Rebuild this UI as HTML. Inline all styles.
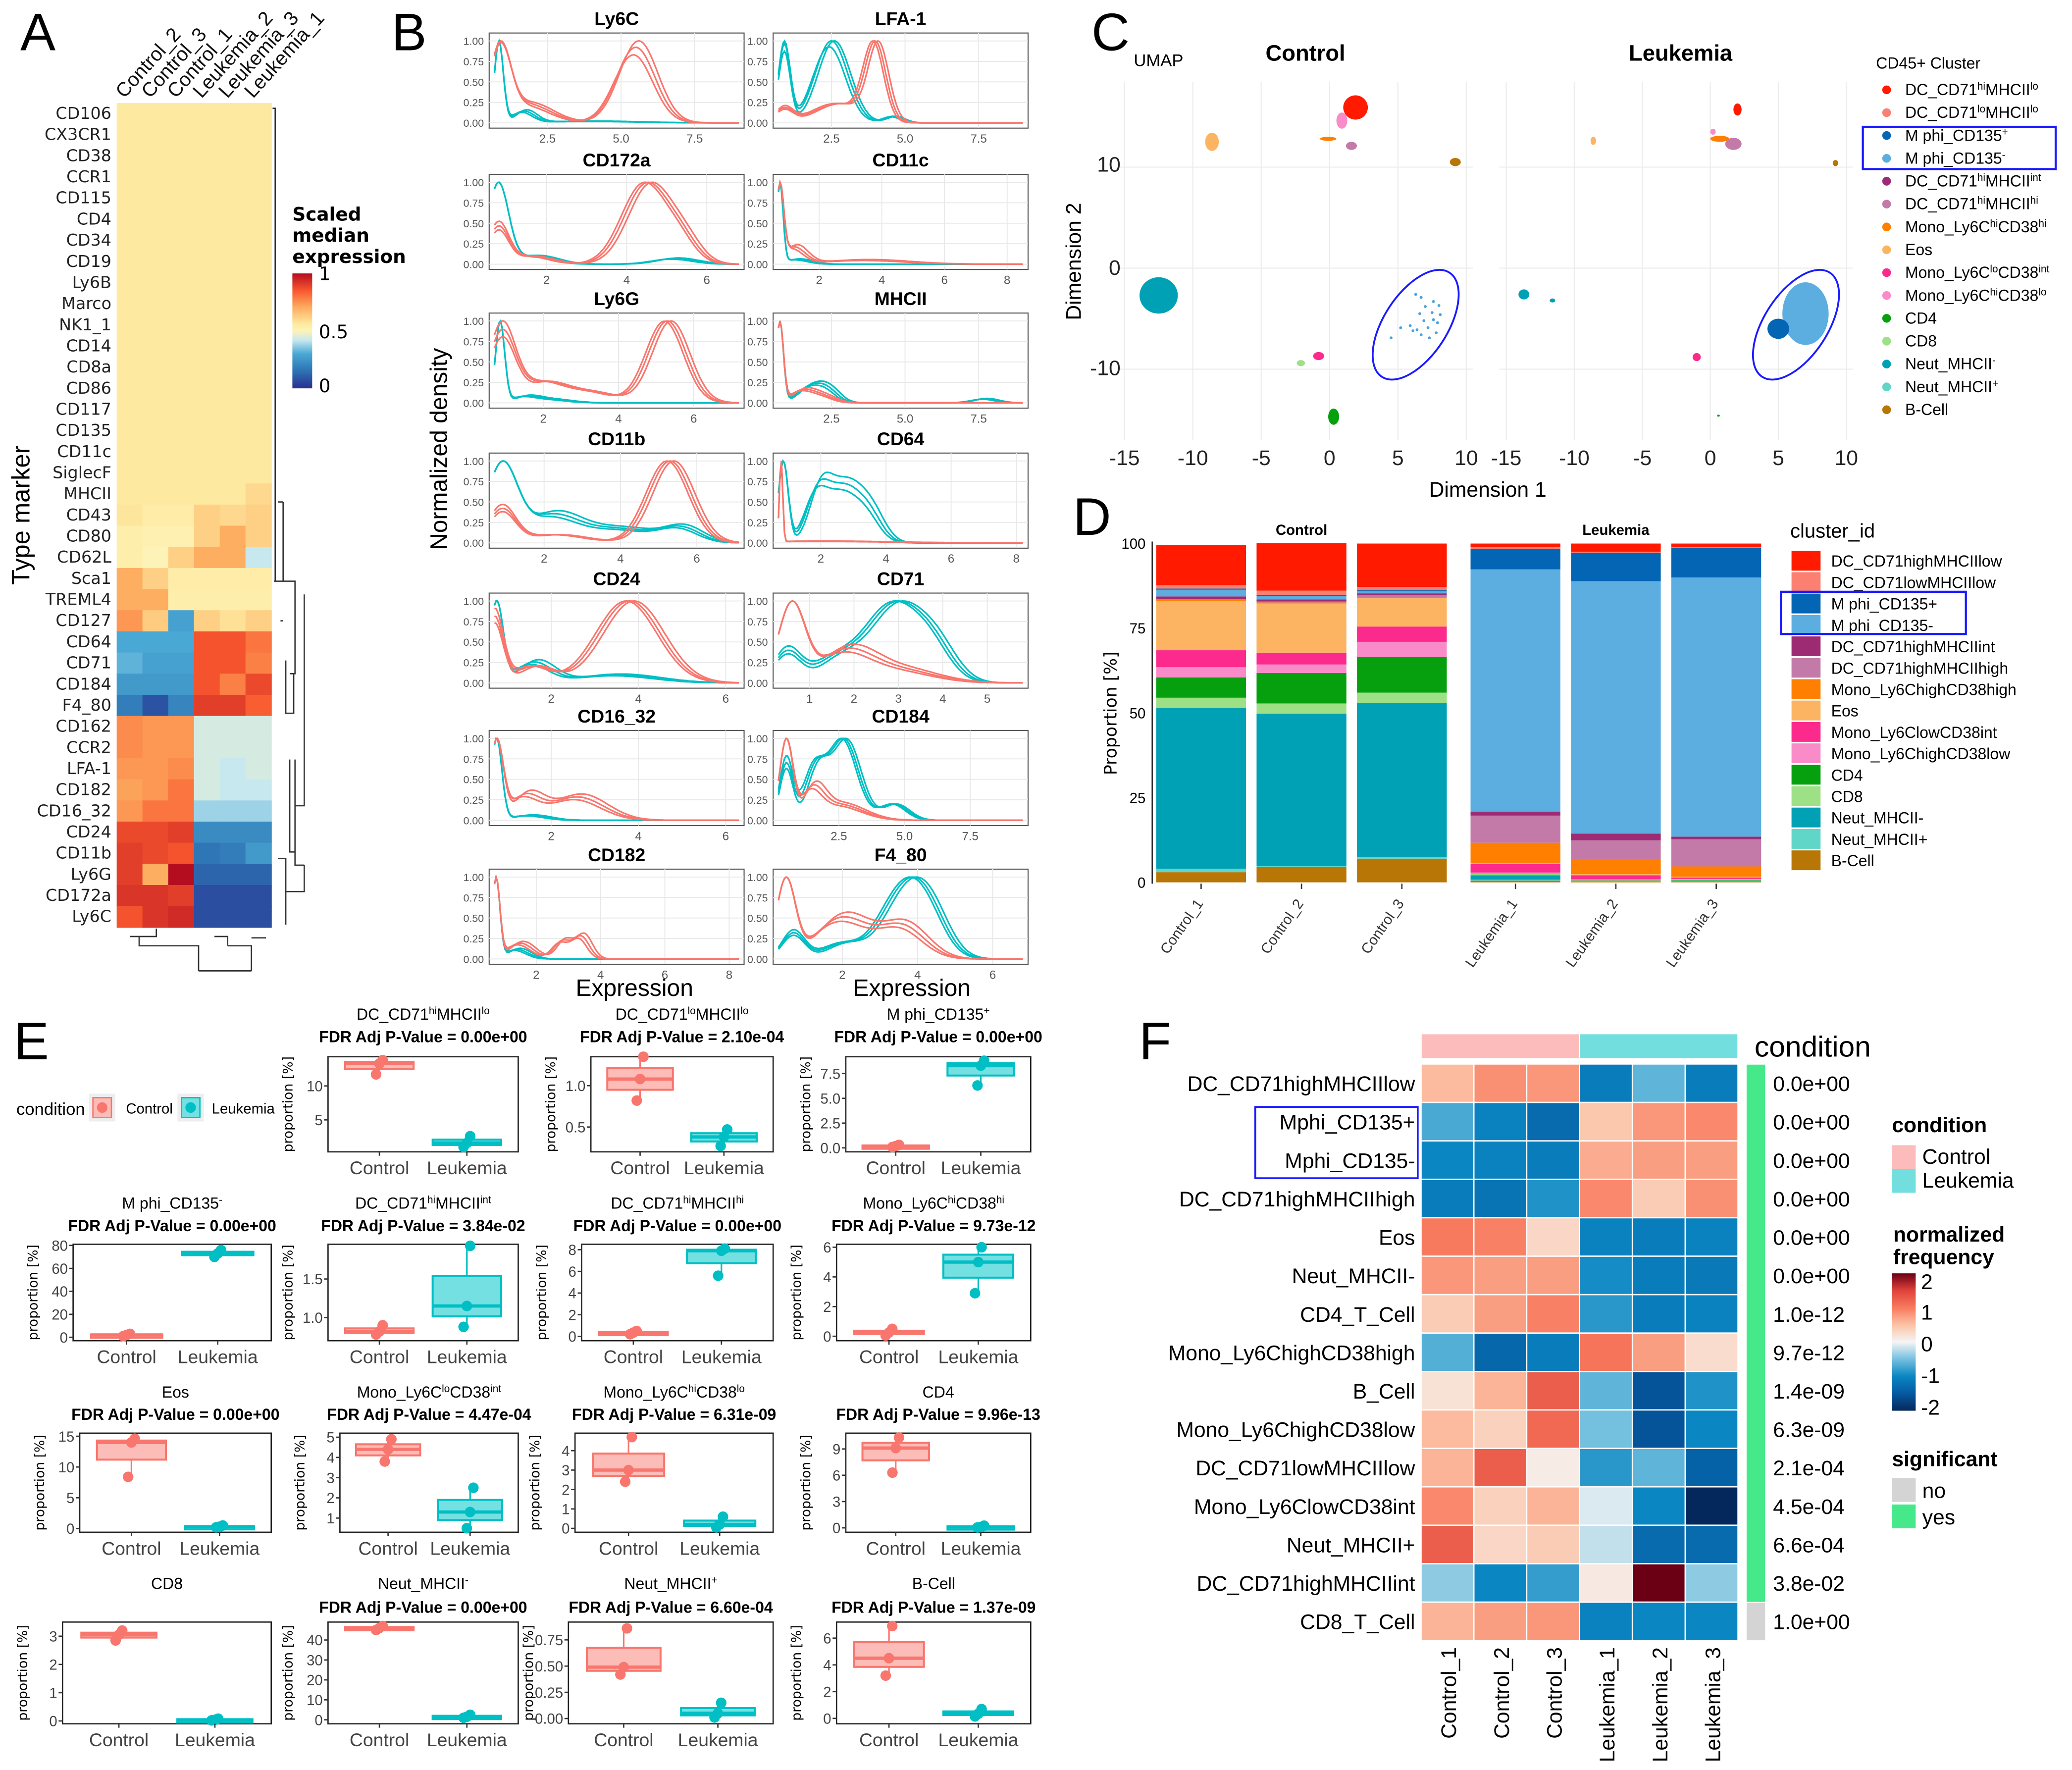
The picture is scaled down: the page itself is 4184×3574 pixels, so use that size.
<!DOCTYPE html>
<html><head><meta charset="utf-8">
<style>
html,body{margin:0;padding:0;background:#fff;}
svg{display:block;}
text{font-family:"Liberation Sans",sans-serif;}
.n{font-family:"Liberation Sans Narrow","Liberation Sans",sans-serif;font-stretch:condensed;}
.w{font-family:"DejaVu Sans","Liberation Sans",sans-serif;}
</style></head>
<body>
<svg id="fig" xmlns="http://www.w3.org/2000/svg" width="4184" height="3574" viewBox="0 0 1568 1340"></svg>
<script>
// ===== Panel A data =====
const aRows=["CD106","CX3CR1","CD38","CCR1","CD115","CD4","CD34","CD19","Ly6B","Marco","NK1_1","CD14","CD8a","CD86","CD117","CD135","CD11c","SiglecF","MHCII","CD43","CD80","CD62L","Sca1","TREML4","CD127","CD64","CD71","CD184","F4_80","CD162","CCR2","LFA-1","CD182","CD16_32","CD24","CD11b","Ly6G","CD172a","Ly6C"];
const aCols=["Control_2","Control_3","Control_1","Leukemia_2","Leukemia_3","Leukemia_1"];
const aVals=[
[.56,.56,.56,.56,.56,.56],[.56,.56,.56,.56,.56,.56],[.56,.56,.56,.56,.56,.56],[.56,.56,.56,.56,.56,.56],
[.56,.56,.56,.56,.56,.56],[.56,.56,.56,.56,.56,.56],[.56,.56,.56,.56,.56,.56],[.56,.56,.56,.56,.56,.56],
[.56,.56,.56,.56,.56,.56],[.56,.56,.56,.56,.56,.56],[.56,.56,.56,.56,.56,.56],[.56,.56,.56,.56,.56,.56],
[.56,.56,.56,.56,.56,.56],[.56,.56,.56,.56,.56,.56],[.56,.56,.56,.56,.56,.56],[.56,.56,.56,.56,.56,.56],
[.56,.56,.56,.56,.56,.56],[.56,.56,.56,.56,.56,.56],[.56,.56,.56,.56,.56,.6],
[.57,.54,.54,.62,.6,.62],[.53,.52,.52,.62,.7,.62],[.53,.5,.62,.7,.7,.42],
[.7,.62,.54,.54,.54,.54],[.7,.7,.53,.53,.53,.53],[.74,.63,.28,.62,.58,.62],
[.3,.3,.3,.86,.86,.8],[.32,.28,.28,.86,.86,.78],[.26,.26,.26,.86,.78,.88],[.18,.08,.2,.9,.9,.84],
[.76,.74,.74,.44,.44,.44],[.76,.74,.74,.44,.44,.44],[.74,.74,.76,.44,.42,.44],[.72,.74,.8,.44,.42,.42],
[.74,.8,.8,.38,.38,.38],[.88,.88,.9,.22,.22,.22],[.9,.88,.86,.16,.18,.26],[.9,.7,1.0,.12,.12,.12],[.92,.92,.9,.07,.07,.07],[.86,.92,.94,.07,.07,.07]];

// ===== Panel B data =====
const bMarkers=["Ly6C","LFA-1","CD172a","CD11c","Ly6G","MHCII","CD11b","CD64","CD24","CD71","CD16_32","CD184","CD182","F4_80"];
const bRange=[[0.7,9],[0.7,9],[0.7,6.8],[0.7,8.5],[0.7,7.2],[0.7,9],[0.7,7.1],[0.7,8.2],[0.7,6.3],[0.3,5.8],[0.7,6.3],[0.2,9.5],[0.7,8.3],[0.3,6.8]];
const bTicks=[[2.5,5,7.5],[2.5,5,7.5],[2,4,6],[2,4,6,8],[2,4,6],[2.5,5,7.5],[2,4,6],[2,4,6,8],[2,4,6],[1,2,3,4,5],[2,4,6],[2.5,5,7.5],[2,4,6,8],[2,4,6]];
const bCtrl=[
[[0.9,0.35,0.95],[1.8,0.8,0.25],[5.5,0.65,1]],
[[0.9,0.3,0.18],[2.7,0.8,0.25],[4,0.35,1]],
[[0.8,0.25,0.45],[1.6,0.5,0.1],[4.5,0.55,1],[5.4,0.4,0.25]],
[[0.75,0.12,0.9],[1.2,0.35,0.2],[3.5,1.3,0.05]],
[[0.9,0.35,0.85],[2,0.6,0.25],[3.3,0.6,0.12],[5.3,0.5,1]],
[[0.75,0.12,1],[1.5,0.4,0.15],[2.2,0.4,0.08]],
[[0.9,0.35,0.4],[2.3,0.8,0.1],[5.3,0.55,1]],
[[0.78,0.05,1],[2,2,0.02]],
[[0.7,0.2,0.8],[1.6,0.4,0.2],[3.8,0.7,1]],
[[0.6,0.3,0.9],[1.8,0.6,0.35],[3,0.8,0.15]],
[[0.75,0.15,1],[1.4,0.35,0.3],[2.6,0.6,0.3]],
[[0.5,0.25,0.6],[2.5,0.9,0.12],[1.5,0.4,0.2]],
[[0.75,0.12,1],[1.5,0.4,0.2],[2.8,0.25,0.22],[3.4,0.25,0.28]],
[[0.5,0.25,0.85],[2,0.7,0.45],[3.6,0.6,0.35]]];
const bLeuk=[
[[0.85,0.15,1],[1.7,0.35,0.14],[4,1.5,0.02]],
[[0.9,0.2,0.95],[2.5,0.55,1],[4.6,0.3,0.08]],
[[0.8,0.25,1],[1.7,0.5,0.1],[5.2,0.5,0.07]],
[[0.75,0.1,1],[1.3,0.4,0.06]],
[[0.85,0.12,1],[1.5,0.35,0.07],[2.2,0.5,0.04]],
[[0.75,0.12,1],[1.8,0.45,0.2],[2.4,0.35,0.12],[7.7,0.4,0.05]],
[[0.9,0.4,1],[2.2,0.7,0.35],[4,0.9,0.18],[5.6,0.5,0.18]],
[[0.85,0.15,1],[1.9,0.35,0.55],[2.7,0.5,0.65],[3.5,0.4,0.3]],
[[0.75,0.15,1],[1.6,0.4,0.25],[3.5,0.9,0.1]],
[[0.5,0.3,0.4],[1.6,0.5,0.3],[2.9,0.6,1],[3.8,0.45,0.4]],
[[0.75,0.12,1],[1.5,0.4,0.06]],
[[0.5,0.25,0.7],[1.6,0.4,0.6],[2.7,0.55,1],[4.6,0.5,0.2]],
[[0.75,0.12,1],[1.4,0.35,0.12]],
[[0.7,0.3,0.35],[2,0.5,0.2],[3.6,0.6,0.85],[4.3,0.5,0.5]]];
const bRepShift=[-0.08,0,0.1];
const bRepScale=[0.9,1,1.1];

// ===== Panel C data =====
const cNames=["DC_CD71^hi^MHCII^lo","DC_CD71^lo^MHCII^lo","M phi_CD135^+","M phi_CD135^-","DC_CD71^hi^MHCII^int","DC_CD71^hi^MHCII^hi","Mono_Ly6C^hi^CD38^hi","Eos","Mono_Ly6C^lo^CD38^int","Mono_Ly6C^hi^CD38^lo","CD4","CD8","Neut_MHCII^-","Neut_MHCII^+","B-Cell"];
const clusterColors=["#ff1a00","#fb8072","#0565b5","#5caee0","#9c2b74","#c47aa8","#ff7f00","#fdb462","#fb2a8c","#f98cc8","#06a00f","#9de086","#00a1b5","#5fd6c8","#b77606"];
// [clusterIndex, umapX, umapY, radiusX, radiusY]
const umapControl=[[0,1.9,15.9,0.9,1.2],[9,0.9,14.6,0.4,0.8],[7,-8.6,12.5,0.5,0.9],[6,-0.1,12.8,0.6,0.2],[5,1.6,12.1,0.4,0.4],[14,9.2,10.5,0.4,0.4],[12,-12.5,-2.7,1.4,1.8],[8,-0.8,-8.7,0.4,0.4],[11,-2.1,-9.4,0.3,0.3],[10,0.3,-14.7,0.4,0.8]];
const umapLeukemia=[[0,2,15.7,0.3,0.6],[9,0.2,13.5,0.2,0.3],[7,-8.6,12.6,0.2,0.4],[6,0.7,12.8,0.7,0.3],[5,1.7,12.3,0.6,0.6],[14,9.2,10.4,0.2,0.3],[12,-13.7,-2.6,0.4,0.5],[12,-11.6,-3.2,0.2,0.2],[3,7,-4.5,1.7,3.1],[2,5,-6,0.8,1.0],[8,-1,-8.8,0.3,0.4],[10,0.6,-14.6,0.1,0.1]];
const umapScatterCtrl=[[6.3,-2.6],[6.7,-2.9],[7.6,-3.3],[7,-3.8],[8,-3.7],[6.6,-4.5],[7.5,-4.4],[8.1,-4.6],[6.9,-5.2],[7.9,-5.4],[5.9,-5.7],[6.4,-6.1],[5.2,-5.9],[7.2,-5.9],[7.8,-6.4],[6.7,-6.6],[4.5,-6.9],[7.3,-6.9],[6.1,-6.2],[7.6,-5.1]];

// ===== Panel D data =====
const dSamples=["Control_1","Control_2","Control_3","Leukemia_1","Leukemia_2","Leukemia_3"];
const dClusters=["B-Cell","Neut_MHCII+","Neut_MHCII-","CD8","CD4","Mono_Ly6ChighCD38low","Mono_Ly6ClowCD38int","Eos","Mono_Ly6ChighCD38high","DC_CD71highMHCIIhigh","DC_CD71highMHCIIint","M phi_CD135-","M phi_CD135+","DC_CD71lowMHCIIlow","DC_CD71highMHCIIlow"];
const dColors=["#b77606","#5fd6c8","#00a1b5","#9de086","#06a00f","#f98cc8","#fb2a8c","#fdb462","#ff7f00","#c47aa8","#9c2b74","#5caee0","#0565b5","#fb8072","#ff1a00"];
const dC1=[3,1,47.5,3,6,3,5,14.5,0.3,0.3,0.8,2,0.3,1,11.8];
const dC2=[4.5,0.3,45,3,9,2.5,3.5,14.5,0.3,0.3,0.6,1,0.3,1.3,14];
const dC3=[7,0.5,45.5,3,10.5,4.5,4.5,8.5,0.2,0.5,0.6,0.6,0.3,1,12.8];
const dL1=[0.5,0.3,1.3,0.3,0.1,0.4,2.5,0.3,6,8,1.2,71.5,6,0.5,1.1];
const dL2=[0.1,0.2,0.1,0.1,0.1,0.3,1.2,0.3,4.5,5.5,2,74.5,8.3,0.4,2.4];
const dL3=[0.3,0.1,0.1,0.1,0.1,0.3,0.4,0.3,3,8,0.8,76.5,8.8,0.2,1];
const dTicks=[0,25,50,75,100];

// ===== Panel E data =====
const eTitles=["DC_CD71^hi^MHCII^lo","DC_CD71^lo^MHCII^lo","M phi_CD135^+","M phi_CD135^-","DC_CD71^hi^MHCII^int","DC_CD71^hi^MHCII^hi","Mono_Ly6C^hi^CD38^hi","Eos","Mono_Ly6C^lo^CD38^int","Mono_Ly6C^hi^CD38^lo","CD4","CD8","Neut_MHCII^-","Neut_MHCII^+","B-Cell"];
const ePvals=["0.00e+00","2.10e-04","0.00e+00","0.00e+00","3.84e-02","0.00e+00","9.73e-12","0.00e+00","4.47e-04","6.31e-09","9.96e-13","","0.00e+00","6.60e-04","1.37e-09"];
const eTicks=[[5,10],[0.5,1.0],[0,2.5,5,7.5],[0,20,40,60,80],[1.0,1.5],[0,2,4,6,8],[0,2,4,6],[0,5,10,15],[1,2,3,4,5],[0,1,2,3,4],[0,3,6,9],[0,1,2,3],[0,10,20,30,40],[0,0.25,0.5,0.75],[0,2,4,6]];
const eTickLabels=[["5","10"],["0.5","1.0"],["0.0","2.5","5.0","7.5"],["0","20","40","60","80"],["1.0","1.5"],["0","2","4","6","8"],["0","2","4","6"],["0","5","10","15"],["1","2","3","4","5"],["0","1","2","3","4"],["0","3","6","9"],["0","1","2","3"],["0","10","20","30","40"],["0.00","0.25","0.50","0.75"],["0","2","4","6"]];
const eYlim=[[0.3,14.3],[0.2,1.35],[-0.4,9.2],[-3,81],[0.7,1.95],[-0.4,8.5],[-0.3,6.2],[-0.6,15.5],[0.3,5.2],[-0.2,4.9],[-0.5,10.8],[-0.1,3.5],[-2,49],[-0.05,0.92],[-0.4,7.2]];
const eCtrl=[[11.7,13.3,13.8],[0.82,1.08,1.35],[0.08,0.18,0.3],[1,2,3],[0.78,0.82,0.9],[0.2,0.35,0.5],[0.05,0.25,0.5],[8.4,14,14.6],[3.8,4.4,4.9],[2.4,3,4.7],[6.3,9.1,10.3],[2.85,3.05,3.2],[45,46,47],[0.42,0.49,0.86],[3.2,4.5,6.9]];
const eLeuk=[[1,1.6,2.6],[0.27,0.38,0.47],[6.3,8.3,8.8],[70,73,76],[0.88,1.15,1.93],[5.6,7.9,8.1],[2.9,5,6],[0.2,0.3,0.5],[0.5,1.3,2.5],[0.05,0.2,0.6],[0.05,0.1,0.25],[0.02,0.04,0.08],[1,1.5,2.5],[0.01,0.05,0.15],[0.15,0.35,0.7]];

// ===== Panel F data =====
const fRows=["DC_CD71highMHCIIlow","Mphi_CD135+","Mphi_CD135-","DC_CD71highMHCIIhigh","Eos","Neut_MHCII-","CD4_T_Cell","Mono_Ly6ChighCD38high","B_Cell","Mono_Ly6ChighCD38low","DC_CD71lowMHCIIlow","Mono_Ly6ClowCD38int","Neut_MHCII+","DC_CD71highMHCIIint","CD8_T_Cell"];
const fCols=["Control_1","Control_2","Control_3","Leukemia_1","Leukemia_2","Leukemia_3"];
const fVals=[
[0.55,0.85,0.8,-1.1,-0.6,-1.1],
[-0.7,-1.05,-1.3,0.45,0.8,0.9],
[-1,-1.05,-1.1,0.65,0.75,0.75],
[-1.1,-1.2,-0.9,0.9,0.4,0.85],
[1,0.95,0.3,-1.05,-1.1,-1.05],
[0.8,0.75,0.75,-0.95,-1.1,-1.15],
[0.4,0.75,0.95,-0.85,-1.1,-1.05],
[-0.65,-1.35,-1.1,1.05,0.75,0.25],
[0.2,0.6,1.25,-0.6,-1.55,-0.9],
[0.55,0.35,1.15,-0.5,-1.55,-1],
[0.6,1.25,0.1,-0.85,-0.6,-1.4],
[0.9,0.35,0.6,-0.1,-1,-2],
[1.25,0.3,0.4,-0.2,-1.3,-1.3],
[-0.4,-1,-0.8,0.12,2,-0.4],
[0.6,0.75,0.8,-1.05,-1,-1]];
const fPvals=["0.0e+00","0.0e+00","0.0e+00","0.0e+00","0.0e+00","0.0e+00","1.0e-12","9.7e-12","1.4e-09","6.3e-09","2.1e-04","4.5e-04","6.6e-04","3.8e-02","1.0e+00"];
const fSig=[1,1,1,1,1,1,1,1,1,1,1,1,1,1,0];

// ===== helpers =====
const NS='http://www.w3.org/2000/svg';
const svg=document.getElementById('fig');
function mk(tag,attrs,parent){const e=document.createElementNS(NS,tag);for(const k in attrs)e.setAttribute(k,attrs[k]);(parent||svg).appendChild(e);return e;}
function tx(x,y,s,size,attrs,parent){const e=mk('text',Object.assign({x:x,y:y,'font-size':size},attrs||{}),parent);e.textContent=s;return e;}
function rich(x,y,s,size,attrs,parent){
  const e=mk('text',Object.assign({x:x,y:y,'font-size':size},attrs||{}),parent);
  const parts=s.split('^');
  parts.forEach((p,i)=>{if(!p)return;const t=mk('tspan',{},e);if(i%2===1){t.setAttribute('font-size',size*0.65);t.setAttribute('baseline-shift','super');}t.textContent=p;});
  return e;}
function lerpHex(a,b,t){const pa=[1,3,5].map(i=>parseInt(a.substr(i,2),16)),pb=[1,3,5].map(i=>parseInt(b.substr(i,2),16));return 'rgb('+pa.map((v,i)=>Math.round(v+(pb[i]-v)*t)).join(',')+')';}
function ramp(stops,v){if(v<=stops[0][0])return stops[0][1];for(let i=1;i<stops.length;i++){if(v<=stops[i][0]){const t=(v-stops[i-1][0])/(stops[i][0]-stops[i-1][0]);return lerpHex(stops[i-1][1],stops[i][1],t);}}return stops[stops.length-1][1];}
const aStops=[[0,'#2b2f8f'],[0.15,'#2d72b4'],[0.3,'#4aa8d4'],[0.42,'#c8e8f0'],[0.5,'#fdf3b8'],[0.56,'#fee9a0'],[0.7,'#fdae61'],[0.85,'#f9582f'],[1,'#b50d20']];
const fStops=[[-2,'#05285c'],[-1.5,'#0559a0'],[-1,'#0a86c2'],[-0.5,'#74c0df'],[0,'#f5f5f5'],[0.5,'#fcc2a5'],[1,'#f87a5e'],[1.5,'#e0423a'],[2,'#6b0015']];

// panel letters
[["A",15,38],["B",296,38],["C",826,38],["D",812,405],["E",10,802],["F",862,802]].forEach(l=>{
  const t=tx(l[1],l[2],l[0],40,{});
  
  
});

// ===== Panel A =====
(function(){
  const g=mk('g',{});
  
  
  const x0=88,y0=78,cw=19.5,rh=16;
  aRows.forEach((r,i)=>{
    aCols.forEach((c,j)=>{
      const rc=mk('rect',{x:x0+j*cw,y:y0+i*rh,width:cw+0.4,height:rh+0.4,fill:ramp(aStops,aVals[i][j])},g);
      
      
    });
    const t=tx(84,y0+i*rh+12,r,12.5,{'text-anchor':'end',class:'w',fill:'#222'},g);
    
    
  });
  aCols.forEach((c,j)=>{
    const cx=x0+j*cw+cw/2;
    const t=tx(cx-4,75,c,15,{transform:'rotate(-48 '+(cx-4)+' 75)',fill:'#111'},g);
    
    
  });
  const yl=tx(22,390,'Type marker',19,{transform:'rotate(-90 22 390)','text-anchor':'middle',class:'n'},g);
  
  
  // dendrograms
  const dp="M206,82 H208 V440 M207,440 H214 V380 M214,380 H210 M214,470 H212 M211,440 H223 V510 H219 M216,500 V540 H222 V510 M219,575 V645 H223 M223,575 V655 H230 M230,450 V610 H223 M210,650 H216 V700 M216,675 H230 V655 M118,703 V709 H98 M105,709 V716 H150 V735 M150,735 H190 M190,735 V716 H172 M172,716 V709 H162 M190,710 H201";
  const dd=mk('path',{d:dp,stroke:'#333','stroke-width':1,fill:'none'},g);
  
  
  ['Scaled','median','expression'].forEach((s,i)=>{const t=tx(221,167+i*16,s,14,{'font-weight':'bold',class:'w'},g);
    
    });
  const defs=mk('defs',{});
  const lg=mk('linearGradient',{id:'agrad',x1:0,y1:1,x2:0,y2:0},defs);
  aStops.forEach(s=>mk('stop',{offset:s[0],'stop-color':s[1]},lg));
  const cb=mk('rect',{x:221,y:207,width:15,height:87,fill:'url(#agrad)'},g);
  
  
  [['1',212],['0.5',256],['0',297]].forEach(v=>{const t=tx(241,v[1],v[0],14,{class:'w'},g);
    
    });
})();

// ===== Panel B =====
(function(){
  const boxX=[370,585],boxY=[25,132,237,343,449,553,658],bw=193,bh=72;
  function dens(comps,x){let s=0;comps.forEach(c=>{s+=c[2]*Math.exp(-0.5*Math.pow((x-c[0])/c[1],2));});return s;}
  bMarkers.forEach((m,k)=>{
    const col=k%2,row=Math.floor(k/2);
    const x0=boxX[col],y0=boxY[row];
    const g=mk('g',{});
    
    
    const bg=mk('rect',{x:x0,y:y0,width:bw,height:bh,fill:'#fff',stroke:'#555','stroke-width':0.8},g);
    
    
    const [xmin,xmax]=bRange[k];
    const px=v=>x0+4+(v-xmin)/(xmax-xmin)*(bw-8);
    const py=v=>y0+bh-4-v*(bh-10);
    [0,0.25,0.5,0.75,1].forEach(v=>{
      const gl=mk('line',{x1:x0,x2:x0+bw,y1:py(v),y2:py(v),stroke:'#e8e8e8','stroke-width':0.7},g);
      
      
      const t=tx(x0-4,py(v)+3,v.toFixed(2),8,{'text-anchor':'end',fill:'#555'},g);
      
      
    });
    bTicks[k].forEach(v=>{
      const gl=mk('line',{x1:px(v),x2:px(v),y1:y0,y2:y0+bh,stroke:'#e8e8e8','stroke-width':0.7},g);
      
      
      const t=tx(px(v),y0+bh+11,String(v.toFixed(v%1?1:(bTicks[k][0]===2.5?1:0))),9,{'text-anchor':'middle',fill:'#555'},g);
      
      
    });
    [[bLeuk[k],'#00bfc4'],[bCtrl[k],'#f8766d']].forEach(([comps,color])=>{
      bRepShift.forEach((sh,r)=>{
        const cs=comps.map((c,ci)=>[c[0]+(ci?sh:0),c[1],ci?c[2]*bRepScale[r]:c[2]]);
        let mx=0;const pts=[];
        for(let i=0;i<=160;i++){const x=xmin+(xmax-xmin)*i/160;const d=dens(cs,x);pts.push([x,d]);if(d>mx)mx=d;}
        const d='M'+pts.map(p=>px(p[0]).toFixed(1)+','+py(p[1]/mx).toFixed(1)).join('L');
        const pa=mk('path',{d:d,fill:'none',stroke:color,'stroke-width':1.2},g);
        
        
      });
    });
    const t=tx(x0+bw/2,y0-6,m,14,{'text-anchor':'middle','font-weight':'bold'},g);
    
    
  });
  const yl=tx(338,340,'Normalized density',18,{transform:'rotate(-90 338 340)','text-anchor':'middle'});
  
  
  [480,690].forEach(x=>{const t=tx(x,754,'Expression',18,{'text-anchor':'middle'});
    
    });
})();

// ===== Panel C =====
(function(){
  const panels=[{x0:851,sx:10.35,data:umapControl,title:'Control',tx:988},{x0:1140,sx:10.3,data:umapLeukemia,title:'Leukemia',tx:1272}];
  const py=v=>203-v*7.65;
  panels.forEach((p,pi)=>{
    const g=mk('g',{});
    
    
    const px=v=>p.x0+(v+15)*p.sx;
    [-15,-10,-5,0,5,10].forEach(v=>{
      const l=mk('line',{x1:px(v),x2:px(v),y1:62,y2:333,stroke:'#ececec','stroke-width':0.8},g);
      
      
      const t=tx(px(v),352,String(v),16,{'text-anchor':'middle',fill:'#222'},g);
      
      
    });
    [10,0,-10].forEach(v=>{
      const l=mk('line',{x1:px(-15.5),x2:px(10.5),y1:py(v),y2:py(v),stroke:'#ececec','stroke-width':0.8},g);
      
      
    });
    p.data.forEach(c=>{
      const e=mk('ellipse',{cx:px(c[1]),cy:py(c[2]),rx:c[3]*p.sx,ry:c[4]*7.65,fill:clusterColors[c[0]]},g);
      
      
    });
    if(pi===0){umapScatterCtrl.forEach(s=>{const c=mk('circle',{cx:px(s[0]),cy:py(s[1]),r:1.1,fill:'#4aa3dc'},g);
      
      });}
    const el=mk('ellipse',{cx:px(6.3),cy:py(-5.6),rx:24,ry:47,fill:'none',stroke:'#1a1aff','stroke-width':1.4,transform:'rotate(33 '+px(6.3)+' '+py(-5.6)+')'},g);
    
    
    const t=tx(p.tx,46,p.title,17,{'text-anchor':'middle','font-weight':'bold'},g);
    
    
  });
  [[10,130],[0,208],[-10,284]].forEach(v=>{const t=tx(848,v[1],String(v[0]),16,{'text-anchor':'end',fill:'#222'});
    
    });
  const u=tx(858,50,'UMAP',13,{class:'n'});
  
  
  const yl=tx(818,198,'Dimension 2',16,{transform:'rotate(-90 818 198)','text-anchor':'middle'});
  
  
  const xl=tx(1126,376,'Dimension 1',16,{'text-anchor':'middle'});
  
  
  const lt=tx(1420,52,'CD45+ Cluster',12,{class:'n'});
  
  
  cNames.forEach((n,i)=>{
    const y=68+i*17.3;
    const c=mk('circle',{cx:1428,cy:y,r:3.3,fill:clusterColors[i]});
    
    
    const t=rich(1442,y+4,n,12,{class:'n'});
    
    
  });
  const bx=mk('rect',{x:1410,y:96,width:146,height:32,fill:'none',stroke:'#1a1aff','stroke-width':1.6});
  
  
})();

// ===== Panel D =====
(function(){
  const g=mk('g',{});
  
  
  const allVals=[dC1,dC2,dC3,dL1,dL2,dL3];
  const barX=[875,951,1027,1113,1189,1265],bw=68;
  const py=v=>668-v*2.565;
  allVals.forEach((vals,s)=>{
    let cum=0;
    vals.forEach((v,c)=>{
      const r=mk('rect',{x:barX[s],y:py(cum+v),width:bw,height:v*2.565,fill:dColors[c]},g);
      
      
      cum+=v;
    });
    const cx=barX[s]+bw/2;
    const tk=mk('line',{x1:cx,x2:cx,y1:669,y2:673,stroke:'#333'},g);
    
    
    const t=tx(cx+2,684,dSamples[s],11,{'text-anchor':'end',transform:'rotate(-55 '+(cx+2)+' 684)',fill:'#333',class:'n'},g);
    
    
  });
  const ax=mk('line',{x1:872,x2:872,y1:410,y2:669,stroke:'#333'},g);
  
  
  dTicks.forEach(v=>{
    const t=tx(867,py(v)+4,String(v),11,{'text-anchor':'end',class:'n'},g);
    
    
  });
  const yl=tx(845,540,'Proportion [%]',13,{transform:'rotate(-90 845 540)','text-anchor':'middle',class:'w'},g);
  
  
  [['Control',985],['Leukemia',1223]].forEach(f=>{const t=tx(f[1],405,f[0],11,{'text-anchor':'middle','font-weight':'bold',class:'n'},g);
    
    });
  const lt=tx(1355,407,'cluster_id',15,{class:'n'},g);
  
  
  for(let i=0;i<15;i++){
    const c=14-i;const y=417+i*16.2;
    const r=mk('rect',{x:1356,y:y,width:22,height:15,fill:dColors[c]},g);
    
    
    const t=tx(1386,y+12,dClusters[c],12,{class:'n'},g);
    
    
  }
  const bx=mk('rect',{x:1348,y:448,width:140,height:32,fill:'none',stroke:'#1a1aff','stroke-width':1.6},g);
  
  
})();

// ===== Panel E =====
(function(){
  const layout=[[248,392,800,872],[447,585,800,872],[640,780,800,872],
    [55,205,942,1015],[248,392,942,1015],[440,585,942,1015],[633,780,942,1015],
    [60,205,1085,1160],[257,392,1085,1160],[435,585,1085,1160],[640,780,1085,1160],
    [47,205,1228,1305],[248,392,1228,1305],[430,585,1228,1305],[633,780,1228,1305]];
  const titleY=[[772,789],[772,789],[772,789],[915,932],[915,932],[915,932],[915,932],[1058,1075],[1058,1075],[1058,1075],[1058,1075],[1203,1221],[1203,1221],[1203,1221],[1203,1221]];
  function q(a){const s=[...a].sort((x,y)=>x-y);return [s[0],(s[0]+s[1])/2,s[1],(s[1]+s[2])/2,s[2]];}
  eTitles.forEach((ti,k)=>{
    const [x0,x1,y0,y1]=layout[k];
    const g=mk('g',{});
    
    
    const [ymin,ymax]=eYlim[k];
    const py=v=>y1-(v-ymin)/(ymax-ymin)*(y1-y0);
    const fr=mk('rect',{x:x0,y:y0,width:x1-x0,height:y1-y0,fill:'none',stroke:'#222','stroke-width':1},g);
    
    
    eTicks[k].forEach((v,i)=>{
      const tk=mk('line',{x1:x0-3,x2:x0,y1:py(v),y2:py(v),stroke:'#333'},g);
      
      
      const t=tx(x0-4,py(v)+4,eTickLabels[k][i],11,{'text-anchor':'end',fill:'#444',class:'n'},g);
      
      
    });
    const w=x1-x0,bw=w*0.36;
    [[eCtrl[k],'#f8766d','#fcbcb7',x0+w*0.27,'Control'],[eLeuk[k],'#00bfc4','#74e0e2',x0+w*0.73,'Leukemia']].forEach(([vals,col,fill,cx,name])=>{
      const [mn,q1,md,q3,mx]=q(vals);
      const wl=mk('line',{x1:cx,x2:cx,y1:py(mn),y2:py(mx),stroke:col,'stroke-width':1.2},g);
      
      
      const bx=mk('rect',{x:cx-bw/2,y:py(q3),width:bw,height:Math.max(py(q1)-py(q3),2.5),fill:fill,stroke:col,'stroke-width':1.5},g);
      
      
      const ml=mk('line',{x1:cx-bw/2,x2:cx+bw/2,y1:py(md),y2:py(md),stroke:col,'stroke-width':2.5},g);
      
      
      vals.forEach((v,i)=>{const c=mk('circle',{cx:cx+(i-1)*2.5,cy:py(v),r:4,fill:col},g);
        
        });
      const tk=mk('line',{x1:cx,x2:cx,y1:y1,y2:y1+3,stroke:'#333'},g);
      
      
      const t=tx(cx,y1+17,name,14,{'text-anchor':'middle',fill:'#444',class:'n'},g);
      
      
    });
    const yl=tx(x0-27,(y0+y1)/2,'proportion [%]',10,{transform:'rotate(-90 '+(x0-27)+' '+((y0+y1)/2)+')','text-anchor':'middle',class:'w'},g);
    
    
    const cx=(x0+x1)/2;
    const tt=rich(cx,titleY[k][0],ti,12,{'text-anchor':'middle',class:'n'},g);
    
    
    if(ePvals[k]){const st=tx(cx,titleY[k][1],'FDR Adj P-Value = '+ePvals[k],12,{'text-anchor':'middle','font-weight':'bold',class:'n'},g);
      
      }
  });
  const lg=mk('g',{});
  
  
  const t=tx(12,844,'condition',13,{class:'n'},lg);
  
  
  [[70,'#f8766d','#fcbcb7','Control',95],[137,'#00bfc4','#74e0e2','Leukemia',160]].forEach(l=>{
    const bg=mk('rect',{x:l[0]-3,y:828,width:20,height:21,fill:'#eee'},lg);
    
    
    const r=mk('rect',{x:l[0],y:831,width:14,height:15,fill:l[2],stroke:l[1]},lg);
    
    
    const c=mk('circle',{cx:l[0]+7,cy:838.5,r:4,fill:l[1]},lg);
    
    
    const tt=tx(l[4],843,l[3],11,{class:'n'},lg);
    
    
  });
})();

// ===== Panel F =====
(function(){
  const g=mk('g',{});
  
  
  const x0=1076,y0=806,cw=40,rh=29.1;
  [['#fcbcbc',0],['#73dede',3]].forEach(a=>{const r=mk('rect',{x:x0+a[1]*cw,y:783,width:cw*3-1,height:18,fill:a[0]},g);
    
    });
  fRows.forEach((rn,i)=>{
    fCols.forEach((c,j)=>{
      const r=mk('rect',{x:x0+j*cw,y:y0+i*rh,width:cw-1,height:rh-1,fill:ramp(fStops,fVals[i][j])},g);
      
      
    });
    const t=tx(1071,y0+i*rh+20,rn,16,{'text-anchor':'end',class:'n'},g);
    
    
    const s=mk('rect',{x:1322,y:y0+i*rh,width:14,height:rh-(fSig[i]!==fSig[i+1]?1:0)+0.3,fill:fSig[i]?'#45e98a':'#d4d4d4'},g);
    
    
    const p=tx(1342,y0+i*rh+20,fPvals[i],16,{class:'n'},g);
    
    
  });
  fCols.forEach((c,j)=>{
    const cx=x0+j*cw+cw/2+6,yy=1247;
    const t=tx(cx,yy,c,16,{'text-anchor':'end',transform:'rotate(-90 '+cx+' '+yy+')'},g);
    
    
  });
  const ct=tx(1328,800,'condition',22,{class:'n'},g);
  
  
  const hb=mk('rect',{x:950,y:838,width:123,height:54,fill:'none',stroke:'#1a1aff','stroke-width':1.4},g);
  
  
  // legends
  const l1=tx(1432,857,'condition',16,{'font-weight':'bold',class:'n'},g);
  
  
  [['#fcbcbc','Control',867],['#73dede','Leukemia',885]].forEach(l=>{
    const r=mk('rect',{x:1432,y:l[2],width:18,height:18,fill:l[0]},g);
    
    
    const t=tx(1455,l[2]+14,l[1],16,{class:'n'},g);
    
    
  });
  ['normalized','frequency'].forEach((s,i)=>{const t=tx(1433,940+i*17,s,16,{'font-weight':'bold',class:'n'},g);
    
    });
  const defs=mk('defs',{});
  const lg=mk('linearGradient',{id:'fgrad',x1:0,y1:1,x2:0,y2:0},defs);
  fStops.forEach(s=>mk('stop',{offset:(s[0]+2)/4,'stop-color':s[1]},lg));
  const cb=mk('rect',{x:1432,y:964,width:18,height:104,fill:'url(#fgrad)'},g);
  
  
  [['2',976],['1',999],['0',1023],['-1',1047],['-2',1071]].forEach(v=>{const t=tx(1454,v[1],v[0],16,{class:'n'},g);
    
    });
  const l3=tx(1432,1110,'significant',16,{'font-weight':'bold',class:'n'},g);
  
  
  [['#d4d4d4','no',1119],['#45e98a','yes',1139]].forEach(l=>{
    const r=mk('rect',{x:1432,y:l[2],width:18,height:18,fill:l[0]},g);
    
    
    const t=tx(1455,l[2]+15,l[1],16,{class:'n'},g);
    
    
  });
})();
</script>
</body></html>
